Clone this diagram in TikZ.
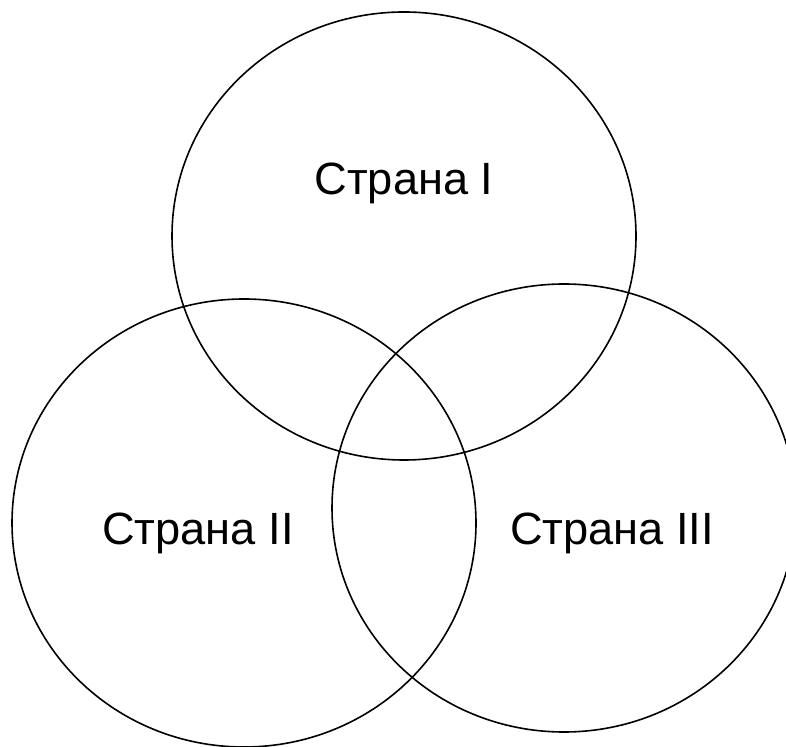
\documentclass[tikz,border=0pt]{standalone}
\usepackage{fontspec}
\setmainfont{Liberation Sans}
\usetikzlibrary{positioning}

\tikzset{
	country/.style={draw=black, line width=0.8pt},
	label text/.style={anchor=base, font=\fontsize{22.6pt}{27pt}\selectfont}
}

\begin{document}
\begin{tikzpicture}[x=0.5pt, y=-0.5pt]
		\useasboundingbox (0,0) rectangle (786,747);
		
		\coordinate (C1) at (404,236);
		\coordinate (C2) at (244,523);
		\coordinate (C3) at (564,508);
		
		% three overlapping countries
		\draw[country] (C1) ellipse [x radius=116pt, y radius=112pt];
		\draw[country] (C2) ellipse [x radius=116pt, y radius=112pt];
		\draw[country] (C3) ellipse [x radius=116pt, y radius=112pt];
		
		\node[label text] (t1) at (404,195) {Страна I};
		\node[label text] (t2) at (198,545) {Страна II};
		\node[label text] (t3) at (612,545) {Страна III};
	\end{tikzpicture}
\end{document}
